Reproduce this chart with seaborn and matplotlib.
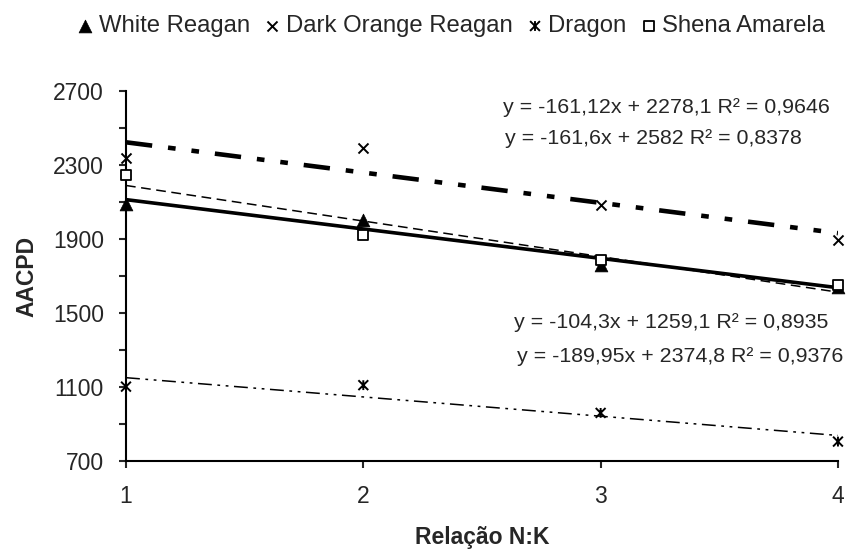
import numpy as np
import seaborn as sns
import matplotlib.pyplot as plt
from matplotlib.path import Path

# N:K ratio levels
relacao = [1, 2, 3, 4]

# AACPD per cultivar
white_reagan = [2090, 2005, 1762, 1642]
dark_orange_reagan = [2338, 2392, 2084, 1895]
dragon = [1102, 1110, 960, 805]
shena_amarela = [2246, 1922, 1785, 1651]

equations = [
    "y = -161,12x + 2278,1 R² = 0,9646",
    "y = -161,6x + 2582 R² = 0,8378",
    "y = -104,3x + 1259,1 R² = 0,8935",
    "y = -189,95x + 2374,8 R² = 0,9376",
]

sns.set_style("white")
plt.rcParams["font.family"] = ["Liberation Sans", "DejaVu Sans"]
plt.rcParams["lines.scale_dashes"] = False

# Excel-like "star" marker: a cross with a vertical bar
star = Path([(-1, -1), (1, 1), (-1, 1), (1, -1), (0, -1), (0, 1)],
            [Path.MOVETO, Path.LINETO, Path.MOVETO, Path.LINETO, Path.MOVETO, Path.LINETO])

fig = plt.figure(figsize=(8.49, 5.59), dpi=100)
ax = fig.add_axes([0.1484, 0.1753, 0.8386, 0.6619])

series = [
    ("White Reagan", white_reagan, dict(marker="^", s=85, color="black", edgecolor="black", linewidth=0.5),
     dict(linestyle="-", linewidth=2.6)),
    ("Dark Orange Reagan", dark_orange_reagan, dict(marker="x", s=52, color="black", linewidth=1.4),
     dict(linestyle=(0, (19, 11.5, 5.5, 11.5, 5.5, 11.5)), linewidth=3.3)),
    ("Dragon", dragon, dict(marker=star, s=50, facecolor="none", edgecolor="black", linewidth=1.4),
     dict(linestyle=(0, (10, 4, 2, 4, 2, 4)), linewidth=1.1)),
    ("Shena Amarela", shena_amarela, dict(marker="s", s=55, facecolor="white", edgecolor="black", linewidth=1.3),
     dict(linestyle=(0, (7, 4)), linewidth=1.1)),
]

for name, values, mk, ln in series:
    sns.regplot(x=relacao, y=values, ax=ax, scatter=False, ci=None, color="black", line_kws=ln)
for name, values, mk, ln in series:
    sns.scatterplot(x=relacao, y=values, ax=ax, label=name, clip_on=False, zorder=5, **mk)

ax.set_xlim(1, 4)
ax.set_ylim(700, 2700)
ax.set_xticks(relacao)
ax.set_yticks(np.arange(700, 2701, 400))
ax.set_yticks(np.arange(700, 2701, 200), minor=True)
for side in ["top", "right"]:
    ax.spines[side].set_visible(False)
for side in ["left", "bottom"]:
    ax.spines[side].set_linewidth(1.5)
    ax.spines[side].set_color("black")
ax.tick_params(axis="y", which="both", direction="out", length=5, width=1.5, left=True, labelsize=16.5, pad=11)
ax.tick_params(axis="x", direction="out", length=5, width=1.5, bottom=True, labelsize=16.5, pad=12)

ax.set_xlabel("Relação N:K", fontsize=16.5, fontweight="bold", labelpad=13)
ax.set_ylabel("AACPD", fontsize=16.5, fontweight="bold", labelpad=10)

eq_pos = [(0.5925, 0.8068), (0.5948, 0.7531), (0.6054, 0.4222), (0.6090, 0.3614)]
for (x, y), txt in zip(eq_pos, equations):
    fig.text(x, y, txt, fontsize=15.4, ha="left", va="center")

ax.legend(loc="center", bbox_to_anchor=(0.530, 0.953), bbox_transform=fig.transFigure, ncol=4,
          frameon=False, fontsize=17.2, handletextpad=0.1, columnspacing=0.5, handlelength=0.9,
          borderaxespad=0, borderpad=0)

fig.savefig("out.png", dpi=100)
